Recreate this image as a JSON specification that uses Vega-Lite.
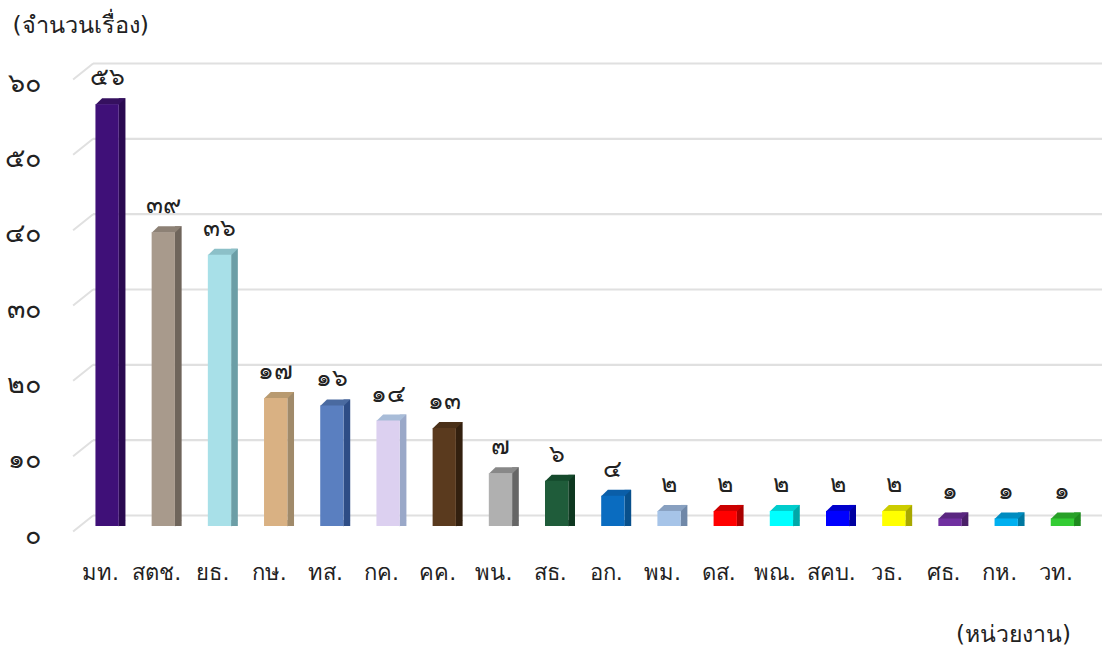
{"$schema":"https://vega.github.io/schema/vega-lite/v6.json","width":1009,"height":452,"autosize":"none","padding":{"left":93,"top":74,"right":0,"bottom":124},"background":"white",
"config":{"view":{"stroke":null},"font":"DejaVu Sans"},
"datasets":{"agencies":[
{"agency":"มท.","count":56,"label":"๕๖"},{"agency":"สตช.","count":39,"label":"๓๙"},{"agency":"ยธ.","count":36,"label":"๓๖"},{"agency":"กษ.","count":17,"label":"๑๗"},{"agency":"ทส.","count":16,"label":"๑๖"},{"agency":"กค.","count":14,"label":"๑๔"},{"agency":"คค.","count":13,"label":"๑๓"},{"agency":"พน.","count":7,"label":"๗"},{"agency":"สธ.","count":6,"label":"๖"},{"agency":"อก.","count":4,"label":"๔"},{"agency":"พม.","count":2,"label":"๒"},{"agency":"ดส.","count":2,"label":"๒"},{"agency":"พณ.","count":2,"label":"๒"},{"agency":"สคบ.","count":2,"label":"๒"},{"agency":"วธ.","count":2,"label":"๒"},{"agency":"ศธ.","count":1,"label":"๑"},{"agency":"กห.","count":1,"label":"๑"},{"agency":"วท.","count":1,"label":"๑"}],
"ticks":[{"v":0},{"v":10},{"v":20},{"v":30},{"v":40},{"v":50},{"v":60}]},
"encoding":{"x":{"field":"agency","type":"nominal","sort":null,"scale":{"type":"band","paddingInner":0,"paddingOuter":0,"range":[-14,997.5]},"axis":{"domain":false,"ticks":false,"labelAngle":0,"labelFontSize":22,"labelColor":"#222","labelPadding":36,"labelOffset":-6.5,"title":"(หน่วยงาน)","titleFontSize":23,"titleFontWeight":"normal","titleColor":"#222","titleX":920,"titleY":97,"titleAnchor":"middle"}},
"y":{"type":"quantitative","scale":{"domain":[0,60],"nice":false}}},
"layer":[
{"data":{"name":"ticks"},"mark":{"type":"rule","stroke":"#e0e0e0","strokeWidth":2.2,"yOffset":-10.5},"encoding":{"x":null,"y":{"field":"v","type":"quantitative","scale":{"domain":[0,60],"nice":false},"axis":{"domain":false,"ticks":false,"grid":false,"values":[0,10,20,30,40,50,60],"labelFontSize":27,"labelColor":"#222","labelPadding":53,"labelOffset":9,"labelExpr":"{'0':'๐','10':'๑๐','20':'๒๐','30':'๓๐','40':'๔๐','50':'๕๐','60':'๖๐'}[datum.label]","title":"(จำนวนเรื่อง)","titleAngle":0,"titleFontSize":23.5,"titleFontWeight":"normal","titleColor":"#222","titleAlign":"left","titleBaseline":"middle","titleX":-81,"titleY":-49}}}},
{"data":{"name":"ticks"},"mark":{"type":"point","filled":false,"size":4,"shape":"M-34,5.5L-14,-10.5","stroke":"#e0e0e0","strokeWidth":2,"opacity":1},"encoding":{"x":{"datum":"มท."},"y":{"field":"v","type":"quantitative"}}},
{"data":{"name":"agencies"},"mark":{"type":"bar","width":6.7,"xOffset":15,"yOffset":-6},"encoding":{"y":{"field":"count","type":"quantitative"},"y2":{"datum":0},"fill":{"field":"agency","type":"nominal","legend":null,"sort":null,"scale":{"range":["#2a0a50","#6f655b","#6c9ea6","#a08a6a","#2e4d86","#9aa8c8","#33200f","#666666","#0e3820","#08508c","#7088a8","#a80000","#00a8a8","#0000a0","#a8a800","#4a2068","#0078a0","#1e8a1e"]}}}},
{"data":{"name":"agencies"},"mark":{"type":"point","filled":true,"size":4,"opacity":1,"strokeWidth":0,"shape":"M11.65,0.5L11.65,-6L18.35,-6Z"},"encoding":{"y":{"datum":0},"fill":{"field":"agency","type":"nominal","legend":null,"sort":null,"scale":{"range":["#2a0a50","#6f655b","#6c9ea6","#a08a6a","#2e4d86","#9aa8c8","#33200f","#666666","#0e3820","#08508c","#7088a8","#a80000","#00a8a8","#0000a0","#a8a800","#4a2068","#0078a0","#1e8a1e"]}}}},
{"data":{"name":"agencies"},"mark":{"type":"point","filled":true,"size":4,"opacity":1,"strokeWidth":0,"shape":"M-11.65,0.5L-4.95,-6L18.35,-6L11.65,0.5Z"},"encoding":{"y":{"field":"count","type":"quantitative"},"fill":{"field":"agency","type":"nominal","legend":null,"sort":null,"scale":{"range":["#35105f","#8d8175","#8cc0c8","#b89a70","#4a6aa0","#a8bcd8","#4a3018","#888888","#154a2c","#0a5ea8","#88a0c0","#cc0000","#00cccc","#0000cc","#cccc00","#5a2680","#008cc0","#28a028"]}}}},
{"data":{"name":"agencies"},"mark":{"type":"bar","width":23.3},"encoding":{"y":{"field":"count","type":"quantitative"},"y2":{"datum":0},"fill":{"field":"agency","type":"nominal","legend":null,"sort":null,"scale":{"range":["#3f1078","#a89a8c","#a8e0e8","#d9b183","#5a7fc0","#dcd0f0","#5a3a1e","#b0b0b0","#1f5c3a","#0a6cc0","#a6c4e8","#ff0000","#00ffff","#0000ff","#ffff00","#7030a0","#00b0f0","#33cc33"]}}}},
{"data":{"name":"agencies"},"mark":{"type":"text","fontSize":25,"color":"#222","dy":-27,"baseline":"middle","align":"center"},"encoding":{"y":{"field":"count","type":"quantitative"},"text":{"field":"label","type":"nominal"}}}
],
"resolve":{"scale":{"fill":"independent"}}}
